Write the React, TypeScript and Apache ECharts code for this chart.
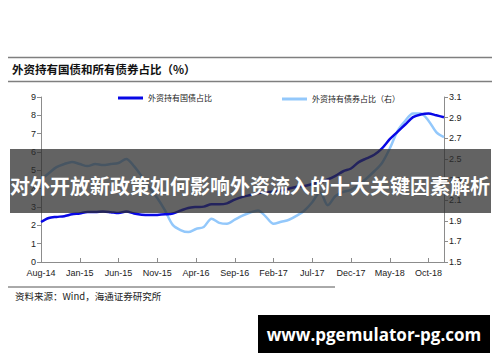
import React, { useEffect, useRef } from "react";
import * as echarts from "echarts";

const months: string[] = [
  "Aug-14","Sep-14","Oct-14","Nov-14","Dec-14",
  "Jan-15","Feb-15","Mar-15","Apr-15","May-15",
  "Jun-15","Jul-15","Aug-15","Sep-15","Oct-15",
  "Nov-15","Dec-15","Jan-16","Feb-16","Mar-16",
  "Apr-16","May-16","Jun-16","Jul-16","Aug-16",
  "Sep-16","Oct-16","Nov-16","Dec-16","Jan-17",
  "Feb-17","Mar-17","Apr-17","May-17","Jun-17",
  "Jul-17","Aug-17","Sep-17","Oct-17","Nov-17",
  "Dec-17","Jan-18","Feb-18","Mar-18","Apr-18",
  "May-18","Jun-18","Jul-18","Aug-18","Sep-18",
  "Oct-18","Nov-18","Dec-18",
];

// 外资持有国债占比 (left axis, %)
const govBondShare: number[] = [
  2.18, 2.4, 2.46, 2.5, 2.6,
  2.65, 2.73, 2.73, 2.76, 2.72,
  2.67, 2.75, 2.65, 2.58, 2.56,
  2.57, 2.6, 2.65, 2.8, 2.95,
  3.0, 3.02, 3.15, 3.15, 3.2,
  3.4, 3.55, 3.65, 3.75, 3.8,
  3.85, 3.9, 4.0, 4.1, 4.15,
  4.25, 4.36, 4.5, 4.7, 4.95,
  5.1, 5.45, 5.65, 5.85, 6.2,
  6.7, 7.1, 7.5, 7.9, 8.05,
  8.1, 8.0, 7.9,
];

// 外资持有债券占比 (right axis, %)
const allBondShare: number[] = [
  2.3, 2.36, 2.42, 2.45, 2.47,
  2.45, 2.43, 2.45, 2.44, 2.45,
  2.46, 2.5, 2.43, 2.33, 2.22,
  2.12, 2.0, 1.86, 1.81, 1.79,
  1.82, 1.84, 1.92, 1.88, 1.87,
  1.91, 1.95, 1.98, 2.0, 1.94,
  1.87, 1.89, 1.91, 1.95, 2.0,
  2.08, 2.18, 2.05, 2.14, 2.18,
  2.2, 2.25, 2.31, 2.38, 2.46,
  2.6, 2.77, 2.87, 2.94, 2.94,
  2.87, 2.76, 2.71,
];

const seriesNames: string[] = ["外资持有国债占比", "外资持有债券占比（右）"];
const chartTitle = "外资持有国债和所有债券占比（%）";
const sourceText = "资料来源：Wind，海通证券研究所";
const bannerText = "对外开放新政策如何影响外资流入的十大关键因素解析";
const watermarkText = "www.pgemulator-pg.com";

const CJK = "'Noto Sans CJK SC', sans-serif";
const LATIN = "'Liberation Sans', Arial, sans-serif";

export default function App() {
  const ref = useRef<HTMLDivElement>(null);

  useEffect(() => {
    if (!ref.current) return;
    const chart = echarts.init(ref.current, undefined, { renderer: "svg" });
    const axisLineStyle = { color: "#8c8c8c", width: 1 };
    const labelStyle = { color: "#222", fontSize: 9, fontFamily: LATIN };

    chart.setOption({
      animation: false,
      backgroundColor: "#ffffff",
      grid: { left: 41, right: 56, top: 97, bottom: 100, containLabel: false },
      legend: [
        {
          data: [seriesNames[0]],
          left: 113,
          top: 89,
          icon: "rect",
          itemWidth: 25,
          itemHeight: 3,
          itemGap: 4,
          textStyle: { fontSize: 8, color: "#222", fontFamily: CJK },
        },
        {
          data: [seriesNames[1]],
          left: 277,
          top: 90,
          icon: "rect",
          itemWidth: 25,
          itemHeight: 3,
          itemGap: 4,
          textStyle: { fontSize: 8, color: "#222", fontFamily: CJK },
        },
      ],
      xAxis: {
        type: "category",
        data: months,
        boundaryGap: false,
        axisLine: { lineStyle: axisLineStyle },
        axisTick: { interval: 4, inside: true, length: 4, lineStyle: axisLineStyle },
        axisLabel: { interval: 4, margin: 6, ...labelStyle },
        splitLine: { show: false },
      },
      yAxis: [
        {
          type: "value",
          min: 0,
          max: 9,
          interval: 1,
          axisLine: { show: true, lineStyle: axisLineStyle },
          axisTick: { show: true, length: 4, lineStyle: axisLineStyle },
          axisLabel: { margin: 5, ...labelStyle },
          splitLine: { show: false },
        },
        {
          type: "value",
          min: 1.5,
          max: 3.1,
          interval: 0.2,
          position: "right",
          axisLine: { show: true, lineStyle: axisLineStyle },
          axisTick: { show: true, length: 4, lineStyle: axisLineStyle },
          axisLabel: {
            margin: 5,
            ...labelStyle,
            formatter: (v: number) => v.toFixed(1),
          },
          splitLine: { show: false },
        },
      ],
      series: [
        {
          name: seriesNames[0],
          type: "line",
          data: govBondShare,
          yAxisIndex: 0,
          smooth: 0.3,
          symbol: "none",
          lineStyle: { color: "#0808e6", width: 2.5 },
          itemStyle: { color: "#0808e6" },
          z: 3,
        },
        {
          name: seriesNames[1],
          type: "line",
          data: allBondShare,
          yAxisIndex: 1,
          smooth: 0.3,
          symbol: "none",
          lineStyle: { color: "#93c8fb", width: 2.5 },
          itemStyle: { color: "#93c8fb" },
          z: 2,
        },
      ],
      graphic: [
        {
          type: "line",
          z: 50,
          shape: { x1: 8, y1: 57.5, x2: 492, y2: 57.5 },
          style: { stroke: "#7f7f7f", lineWidth: 1.5 },
        },
        {
          type: "text",
          z: 50,
          left: 12,
          top: 63,
          style: {
            text: chartTitle,
            fontSize: 11.5,
            fontWeight: "bold",
            fontFamily: CJK,
            fill: "#111",
          },
        },
        {
          type: "line",
          z: 50,
          shape: { x1: 8, y1: 81.5, x2: 492, y2: 81.5 },
          style: { stroke: "#7f7f7f", lineWidth: 1.5 },
        },
        {
          type: "line",
          z: 50,
          shape: { x1: 8, y1: 287, x2: 335, y2: 287 },
          style: { stroke: "#555", lineWidth: 1 },
        },
        {
          type: "text",
          z: 50,
          left: 15,
          top: 291,
          style: {
            text: sourceText,
            fontSize: 9.5,
            fontFamily: CJK,
            fill: "#222",
          },
        },
        {
          type: "rect",
          z: 100,
          shape: { x: 10, y: 149, width: 481, height: 64 },
          style: { fill: "rgba(45,45,45,0.74)" },
        },
        {
          type: "text",
          z: 101,
          x: 250,
          y: 185,
          style: {
            text: bannerText,
            fontSize: 20,
            fontWeight: "bold",
            fontFamily: CJK,
            fill: "#ffffff",
            align: "center",
            verticalAlign: "middle",
          },
        },
        {
          type: "rect",
          z: 100,
          shape: { x: 258, y: 315, width: 232, height: 38 },
          style: { fill: "#000000" },
        },
        {
          type: "text",
          z: 101,
          x: 374,
          y: 334,
          style: {
            text: watermarkText,
            fontSize: 17,
            fontWeight: "bold",
            fontFamily: "'Open Sans', sans-serif",
            fill: "#ffffff",
            align: "center",
            verticalAlign: "middle",
          },
        },
      ],
    });

    return () => {
      chart.dispose();
    };
  }, []);

  return (
    <div
      ref={ref}
      style={{ position: "fixed", left: 0, top: 0, width: 500, height: 362 }}
    />
  );
}
